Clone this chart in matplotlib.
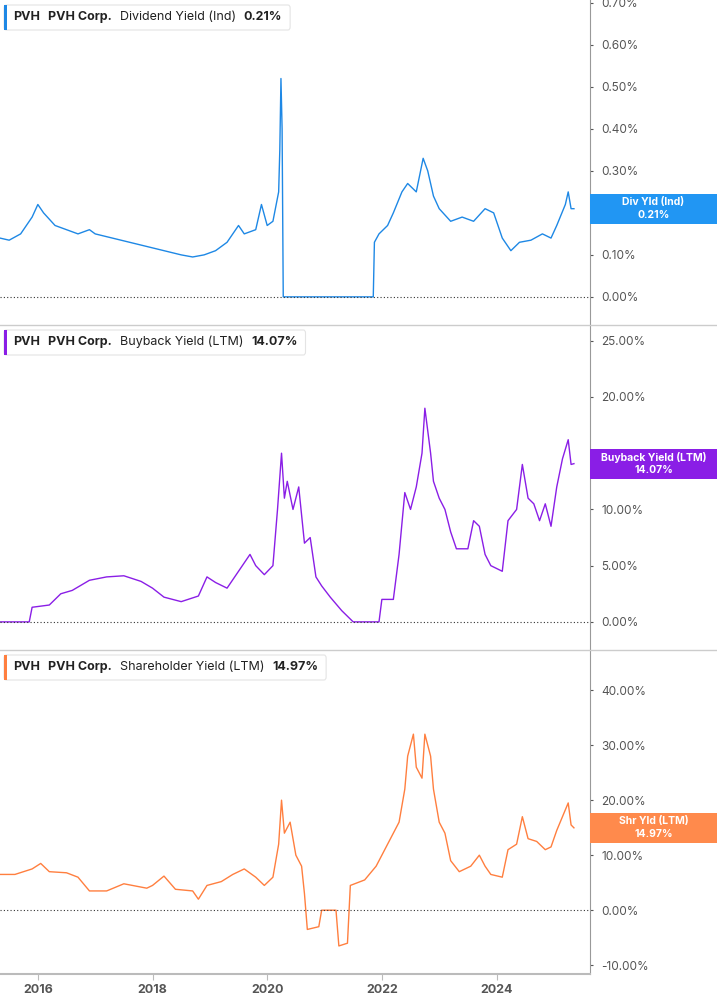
import matplotlib
matplotlib.use("Agg")
import matplotlib.pyplot as plt
from matplotlib.patches import Rectangle, FancyBboxPatch

div_t = [2015.34,2015.5,2015.7,2015.9,2016.0,2016.1,2016.3,2016.5,2016.7,2016.9,2017.0,2017.3,2017.6,2017.9,2018.2,2018.5,2018.7,2018.9,2019.1,2019.3,2019.5,2019.6,2019.8,2019.9,2020.0,2020.1,2020.2,2020.22,2020.24,2020.26,2020.28,2021.85,2021.87,2021.95,2022.1,2022.2,2022.35,2022.45,2022.6,2022.72,2022.8,2022.9,2023.0,2023.2,2023.4,2023.6,2023.8,2023.95,2024.1,2024.25,2024.4,2024.6,2024.8,2024.95,2025.05,2025.2,2025.25,2025.3,2025.35]
div_v = [0.14,0.135,0.15,0.19,0.22,0.2,0.17,0.16,0.15,0.16,0.15,0.14,0.13,0.12,0.11,0.10,0.095,0.10,0.11,0.13,0.17,0.15,0.16,0.22,0.17,0.18,0.25,0.35,0.52,0.40,0.0,0.0,0.13,0.15,0.17,0.20,0.25,0.27,0.25,0.33,0.30,0.24,0.21,0.18,0.19,0.18,0.21,0.20,0.14,0.11,0.13,0.135,0.15,0.14,0.17,0.22,0.25,0.21,0.21]

bb_t = [2015.34,2015.85,2015.9,2016.2,2016.4,2016.6,2016.9,2017.2,2017.5,2017.8,2018.0,2018.2,2018.5,2018.8,2018.95,2019.1,2019.3,2019.5,2019.7,2019.8,2019.95,2020.1,2020.18,2020.25,2020.3,2020.35,2020.45,2020.55,2020.65,2020.75,2020.85,2020.95,2021.1,2021.3,2021.5,2021.95,2022.0,2022.2,2022.3,2022.4,2022.5,2022.6,2022.7,2022.75,2022.85,2022.9,2023.0,2023.1,2023.2,2023.3,2023.5,2023.6,2023.7,2023.8,2023.9,2024.1,2024.2,2024.35,2024.45,2024.55,2024.65,2024.75,2024.85,2024.95,2025.05,2025.15,2025.25,2025.3,2025.35]
bb_v = [0,0,1.3,1.5,2.5,2.8,3.7,4.0,4.1,3.6,3.0,2.2,1.8,2.3,4.0,3.5,3.0,4.5,6.0,5.0,4.2,5.0,10.0,15.0,11.0,12.5,10.0,12.0,7.0,7.5,4.0,3.2,2.2,1.0,0.0,0,2.0,2.0,6.0,11.5,10.0,12.0,15.0,19.0,15.0,12.5,11.0,10.0,8.0,6.5,6.5,9.0,8.5,6.0,5.0,4.5,9.0,10.0,14.0,11.0,10.5,9.0,10.5,8.5,12.0,14.5,16.2,14.0,14.07]

sh_t = [2015.34,2015.6,2015.9,2016.05,2016.2,2016.5,2016.7,2016.9,2017.2,2017.5,2017.9,2018.0,2018.2,2018.4,2018.7,2018.8,2018.95,2019.2,2019.4,2019.6,2019.8,2019.95,2020.1,2020.2,2020.25,2020.3,2020.4,2020.5,2020.6,2020.65,2020.7,2020.9,2020.95,2021.2,2021.25,2021.4,2021.45,2021.7,2021.9,2022.0,2022.2,2022.3,2022.4,2022.45,2022.55,2022.6,2022.7,2022.75,2022.85,2022.9,2023.0,2023.1,2023.2,2023.35,2023.55,2023.7,2023.8,2023.9,2024.1,2024.2,2024.35,2024.45,2024.55,2024.7,2024.85,2024.95,2025.05,2025.15,2025.25,2025.3,2025.35]
sh_v = [6.5,6.5,7.5,8.5,7.0,6.8,6.0,3.5,3.5,4.8,4.0,4.5,6.2,3.8,3.5,2.0,4.5,5.2,6.5,7.5,6.0,4.5,6.0,12.0,20.0,14.0,16.0,10.0,8.0,3.0,-3.5,-3.0,0.0,0.0,-6.5,-6.0,4.5,5.5,8.0,10.0,14.0,16.0,22.0,28.0,32.0,26.0,24.0,32.0,28.0,22.0,16.0,14.0,9.0,7.0,8.0,10.0,8.0,6.5,6.0,11.0,12.0,17.0,13.0,12.5,11.0,11.5,14.5,17.0,19.5,15.5,14.97]

years = [2016, 2018, 2020, 2022, 2024]

W, H = 717, 1005
fig = plt.figure(figsize=(W/100, H/100), dpi=100)
FONT = "Inter"
GRAY = "#555555"

panels = [
    dict(t=div_t, v=div_v, col="#1e88e5", top=0, bot=325, ylim=(-0.067, 0.707),
         ticks=[0.0,0.1,0.2,0.3,0.4,0.5,0.6,0.7], name="Dividend Yield (Ind)",
         last="0.21%", tag="Div Yld (Ind)", tagcol="#2196f3", tagval=0.21),
    dict(t=bb_t, v=bb_v, col="#8a1ee6", top=325, bot=650, ylim=(-2.5, 26.4),
         ticks=[0,5,10,15,20,25], name="Buyback Yield (LTM)",
         last="14.07%", tag="Buyback Yield (LTM)", tagcol="#8a1ee6", tagval=14.07),
    dict(t=sh_t, v=sh_v, col="#ff7f3f", top=650, bot=974, ylim=(-11.6, 47.3),
         ticks=[-10,0,10,20,30,40], name="Shareholder Yield (LTM)",
         last="14.97%", tag="Shr Yld (LTM)", tagcol="#ff8a4c", tagval=14.97),
]
right = 590/W
renderer = fig.canvas.get_renderer()

def put(x, y, s, **kw):
    t = fig.text(x/W, 1-y/H, s, fontfamily=FONT, fontsize=9, color="#222", va="center", zorder=7, **kw)
    bb = t.get_window_extent(renderer)
    return x + bb.width

for i, p in enumerate(panels):
    ax = fig.add_axes([0, 1-p["bot"]/H, right, (p["bot"]-p["top"])/H])
    ax.plot(p["t"], p["v"], color=p["col"], lw=1.0)
    ax.set_xlim(2015.34, 2025.63)
    ax.set_ylim(*p["ylim"])
    ax.axhline(0, color="#333333", lw=0.8, ls=(0, (1, 2)))
    ax.yaxis.tick_right()
    ax.set_yticks(p["ticks"])
    ax.set_yticklabels(["{:.2f}%".format(t) for t in p["ticks"]], fontfamily=FONT, fontsize=8.5, color=GRAY)
    ax.tick_params(axis="y", length=2, color=GRAY, pad=6)
    for s in ["left", "top"]:
        ax.spines[s].set_visible(False)
    ax.spines["right"].set_color("#999999")
    if i < 2:
        ax.set_xticks([])
        ax.spines["bottom"].set_visible(False)
        fig.add_artist(plt.Line2D([0, 1], [1-p["bot"]/H]*2, color="#cccccc", lw=1, transform=fig.transFigure))
    else:
        ax.set_xticks(years)
        ax.set_xticklabels([str(y) for y in years], fontfamily=FONT, fontsize=9, fontweight="bold", color=GRAY)
        ax.tick_params(axis="x", length=4, color="#bbbbbb")
        ax.spines["bottom"].set_color("#bbbbbb")
        ax.spines["bottom"].set_linewidth(1.5)
    # legend
    ty = p["top"] + 17
    x = put(13, ty, "PVH", fontweight="bold")
    x = put(x + 8, ty, "PVH Corp.", fontweight="bold")
    x = put(x + 8, ty, p["name"])
    x = put(x + 8, ty, p["last"], fontweight="bold")
    y0 = 1 - (p["top"]+30)/H
    fig.patches.append(FancyBboxPatch((4/W, y0), (x + 8 - 4)/W, 25/H,
        boxstyle="round,pad=0,rounding_size=0.003", transform=fig.transFigure,
        fc="white", ec="#e4e4e4", lw=0.8, zorder=5))
    fig.patches.append(Rectangle((4/W, y0), 3/W, 25/H, transform=fig.transFigure,
        fc=p["col"], ec="none", zorder=6))
    # tag
    yy = ax.transData.transform((0, p["tagval"]))[1]
    fig.patches.append(Rectangle((right, yy/H - 15/H), 1-right, 30/H, transform=fig.transFigure,
        fc=p["tagcol"], ec="none", zorder=8))
    fig.text((right+1)/2, yy/H + 6.5/H, p["tag"], fontfamily=FONT, fontsize=7.5, fontweight="bold", color="white", ha="center", va="center", zorder=9)
    fig.text((right+1)/2, yy/H - 6.5/H, p["last"], fontfamily=FONT, fontsize=7.5, fontweight="bold", color="white", ha="center", va="center", zorder=9)

fig.savefig("out.png", dpi=100)
